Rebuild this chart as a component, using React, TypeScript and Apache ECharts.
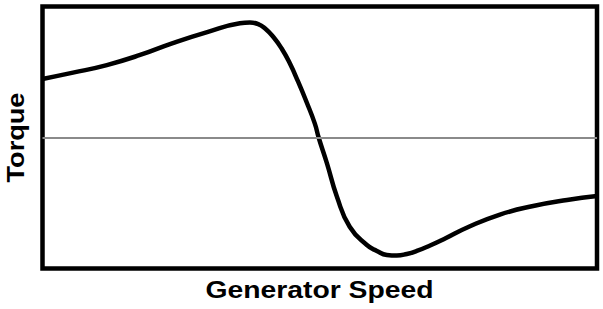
import React, { useEffect, useRef } from "react";
import * as echarts from "echarts";

const speed = [0, 5.5, 11.6, 17.6, 23.5, 29.7, 35.6, 37.4, 38.9, 40.1, 41.6, 43.1, 44.6, 46.1, 47.6, 49.1, 49.8, 51.3, 53.1, 55.4, 58.5, 60.3, 62.1, 63.9, 65.7, 67.5, 69.9, 72.6, 76.6, 82.5, 88.5, 94.6, 100];
const torque = [0.447, 0.495, 0.553, 0.63, 0.721, 0.805, 0.872, 0.878, 0.866, 0.834, 0.769, 0.681, 0.566, 0.426, 0.273, 0.108, 0, -0.197, -0.452, -0.681, -0.821, -0.866, -0.897, -0.901, -0.889, -0.866, -0.824, -0.771, -0.687, -0.588, -0.523, -0.477, -0.447];
const xTitle = "Generator Speed";
const yTitle = "Torque";

export default function App() {
  const ref = useRef<HTMLDivElement>(null);
  useEffect(() => {
    const chart = echarts.init(ref.current!, null, { renderer: "svg" });
    chart.setOption({
      animation: false,
      grid: {
        left: 42.5,
        right: 6,
        top: 6.5,
        bottom: 40.5,
        show: true,
        borderColor: "#000",
        borderWidth: 4.5,
        backgroundColor: "#fff",
      },
      xAxis: { type: "value", min: 0, max: 100, show: false },
      yAxis: { type: "value", min: -1, max: 1, show: false },
      graphic: [
        {
          type: "text",
          x: 319.5,
          y: 290,
          scaleX: 1.18,
          style: {
            text: xTitle,
            font: "bold 24px 'Liberation Sans', Arial, sans-serif",
            fill: "#000",
            align: "center",
            verticalAlign: "middle",
          },
        },
        {
          type: "text",
          x: 16,
          y: 137.5,
          rotation: Math.PI / 2,
          scaleX: 1.13,
          style: {
            text: yTitle,
            font: "bold 24px 'Liberation Sans', Arial, sans-serif",
            fill: "#000",
            align: "center",
            verticalAlign: "middle",
          },
        },
      ],
      series: [
        {
          type: "line",
          data: speed.map((s, i) => [s, torque[i]]),
          smooth: 0.5,
          showSymbol: false,
          lineStyle: { color: "#000", width: 4.5 },
          markLine: {
            silent: true,
            symbol: "none",
            label: { show: false },
            lineStyle: { color: "#8a8a8a", width: 2, type: "solid" },
            data: [{ yAxis: 0 }],
          },
          z: 3,
        },
      ],
    });
    return () => chart.dispose();
  }, []);
  return <div ref={ref} style={{ width: 603, height: 309, position: "absolute", left: 0, top: 0 }} />;
}
